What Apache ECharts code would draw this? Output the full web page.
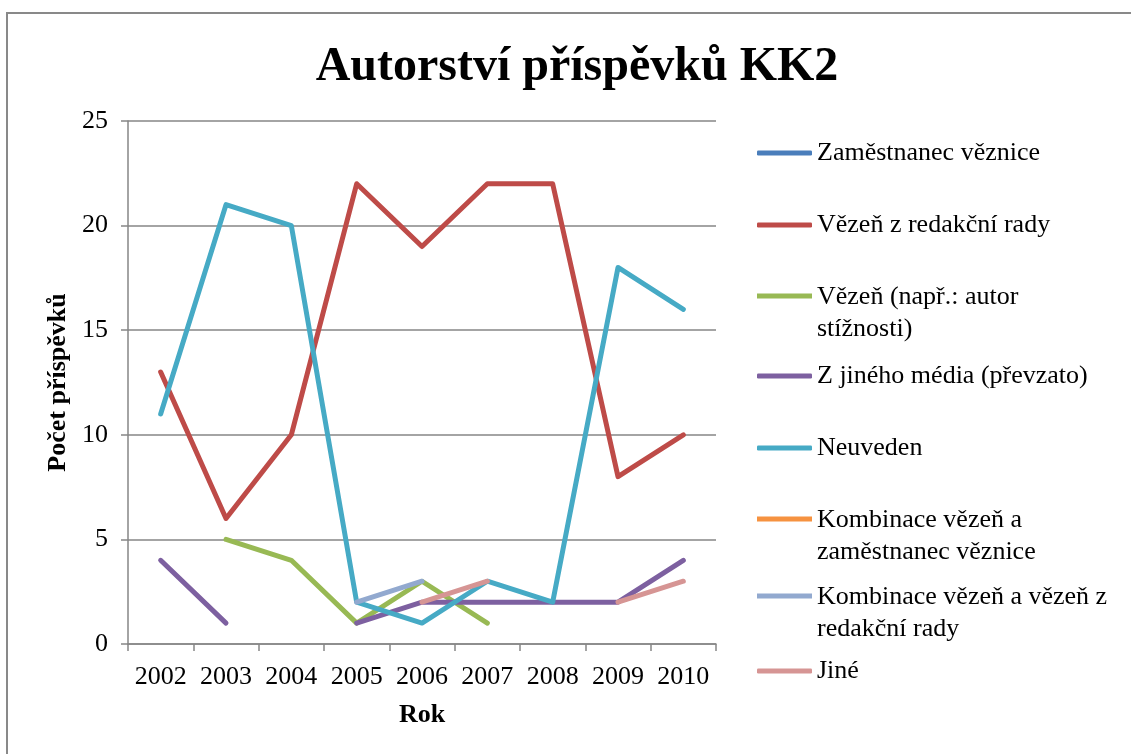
<!DOCTYPE html>
<html lang="cs">
<head>
<meta charset="UTF-8">
<title>Autorství příspěvků KK2</title>
<script src="https://cdn.jsdelivr.net/npm/echarts@6/dist/echarts.min.js"></script>
<style>
  html, body { margin: 0; padding: 0; background: #fff; }
  #main { width: 1131px; height: 754px; }
</style>
</head>
<body>
<div id="main"></div>
<script>
    // data
    var years = ['2002', '2003', '2004', '2005', '2006', '2007', '2008', '2009', '2010'];
    var zamestnanec = [null, null, null, null, null, null, null, null, null];
    var vezenRedakce = [13, 6, 10, 22, 19, 22, 22, 8, 10];
    var vezenStiznost = [null, 5, 4, 1, 3, 1, null, null, null];
    var jineMedium = [4, 1, null, 1, 2, 2, 2, 2, 4];
    var neuveden = [11, 21, 20, 2, 1, 3, 2, 18, 16];
    var kombZamestnanec = [null, null, null, null, null, null, null, null, null];
    var kombRedakce = [null, null, null, 2, 3, null, null, null, null];
    var jine = [null, null, null, null, 2, 3, null, 2, 3];
    var yTicks = [0, 5, 10, 15, 20, 25];

    var names = ['Zaměstnanec věznice', 'Vězeň z redakční rady', 'Vězeň (např.: autor stížnosti)',
        'Z jiného média (převzato)', 'Neuveden', 'Kombinace vězeň a zaměstnanec věznice',
        'Kombinace vězeň a vězeň z redakční rady', 'Jiné'];
    var legendLabels = ['Zaměstnanec věznice', 'Vězeň z redakční rady', 'Vězeň (např.: autor\nstížnosti)',
        'Z jiného média (převzato)', 'Neuveden', 'Kombinace vězeň a\nzaměstnanec věznice',
        'Kombinace vězeň a vězeň z\nredakční rady', 'Jiné'];
    var values = [zamestnanec, vezenRedakce, vezenStiznost, jineMedium, neuveden, kombZamestnanec, kombRedakce, jine];
    var colors = ['#4A7EBB', '#BE4B48', '#98B954', '#7D60A0', '#46AAC5', '#F69240', '#92A9CF', '#D69594'];
    // y of first text line for each legend entry
    var legendY = [153, 225, 297, 376, 448, 520, 597, 671];

    var font = 'Liberation Serif, Times New Roman, serif';
    var gray = '#868686';

    var legends = [];
    var series = [];
    for (var i = 0; i < names.length; i++) {
        var twoLines = legendLabels[i].indexOf('\n') >= 0;
        legends.push({
            data: [names[i]],
            left: 757,
            top: legendY[i] - 16,
            padding: 0,
            selectedMode: false,
            itemWidth: 55,
            itemHeight: twoLines ? 39 : 5,
            // line sits at the top of the icon box so it lines up with the first text line
            icon: twoLines ? 'path://M0,0L55,0L55,5L0,5Z M0,39L0.01,39L0,39Z' : 'roundRect',
            itemStyle: { borderWidth: 0 },
            formatter: (function (idx) { return function () { return legendLabels[idx]; }; })(i),
            textStyle: { fontFamily: font, fontSize: 26, color: '#000', lineHeight: 32 }
        });
        series.push({
            name: names[i],
            type: 'line',
            data: values[i],
            showSymbol: false,
            symbol: 'none',
            connectNulls: false,
            color: colors[i],
            itemStyle: { color: colors[i] },
            lineStyle: { color: colors[i], width: 5, cap: 'round', join: 'round' },
            emphasis: { disabled: true }
        });
    }

    var myChart = echarts.init(document.getElementById('main'));
    var option = {
        animation: false,
        title: {
            text: 'Autorství příspěvků KK2',
            left: 572,
            textAlign: 'center',
            top: 35,
            textStyle: { fontFamily: font, fontSize: 48, fontWeight: 'bold', color: '#000', lineHeight: 56 }
        },
        graphic: [{
            type: 'rect',
            shape: { x: 7, y: 13, width: 2000, height: 2000 },
            style: { fill: 'none', stroke: '#898989', lineWidth: 2 },
            silent: true
        }],
        legend: legends,
        grid: { left: 128, top: 121, right: 415, bottom: 110 },
        xAxis: {
            type: 'category',
            data: years,
            boundaryGap: true,
            name: 'Rok',
            nameLocation: 'middle',
            nameGap: 58,
            nameTextStyle: { fontFamily: font, fontSize: 26, fontWeight: 'bold', color: '#000' },
            axisLine: { lineStyle: { color: gray, width: 1.5 } },
            axisTick: { show: true, length: 7, interval: 0, lineStyle: { color: gray, width: 1.5 } },
            axisLabel: { interval: 0, margin: 20, fontFamily: font, fontSize: 26, color: '#000' },
            splitLine: { show: false }
        },
        yAxis: {
            type: 'value',
            min: yTicks[0],
            max: yTicks[yTicks.length - 1],
            interval: 5,
            name: 'Počet příspěvků',
            nameLocation: 'middle',
            nameGap: 56,
            nameTextStyle: { fontFamily: font, fontSize: 26, fontWeight: 'bold', color: '#000' },
            axisLine: { show: true, lineStyle: { color: gray, width: 1.5 } },
            axisTick: { show: true, length: 7, lineStyle: { color: gray, width: 1.5 } },
            axisLabel: { margin: 20, fontFamily: font, fontSize: 26, color: '#000' },
            splitLine: { show: true, lineStyle: { color: gray, width: 1.5 } }
        },
        series: series
    };
    myChart.setOption(option);
</script>
</body>
</html>
